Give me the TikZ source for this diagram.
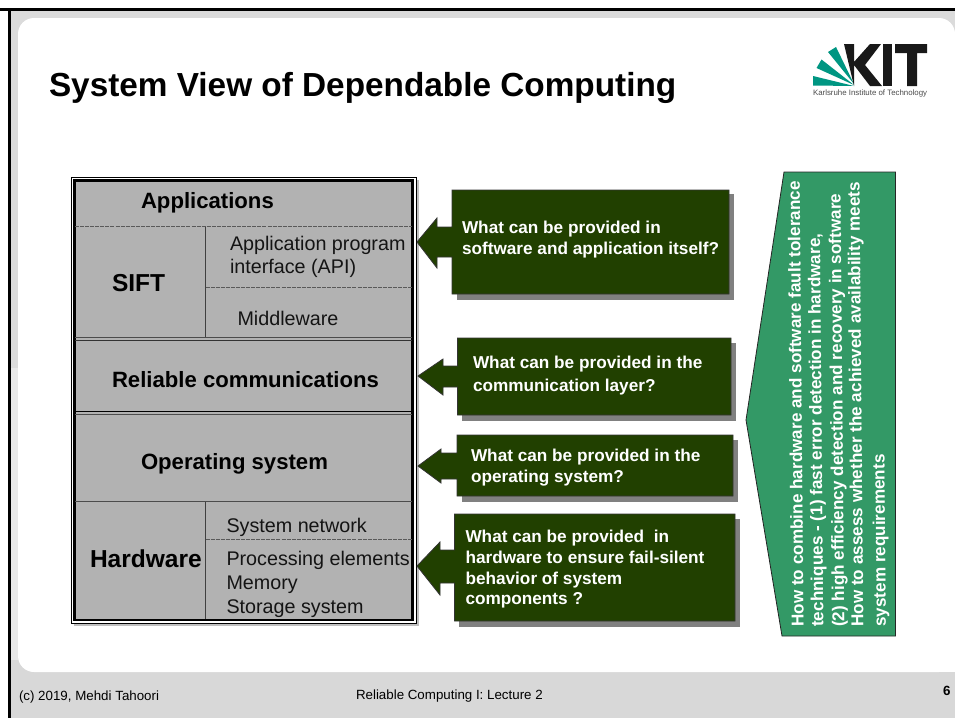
\documentclass[tikz,border=0pt]{standalone}
\usepackage{fontspec}
\setmainfont{Liberation Sans}
\definecolor{layer}{HTML}{B2B2B2}
\definecolor{dkgreen}{HTML}{214000}
\definecolor{midgreen}{HTML}{339966}
\definecolor{band}{HTML}{D8D8D8}
\definecolor{kitgreen}{HTML}{009682}
\newcommand{\fs}[2]{\fontsize{#1}{#2}\selectfont}
\tikzset{
  lbl/.style={inner sep=0pt,outer sep=0pt,anchor=west,align=left},
  big/.style={lbl,font=\fs{16.6}{18}\bfseries},
  huge/.style={lbl,font=\fs{18.4}{20}\bfseries},
  small/.style={lbl,font=\fs{14.8}{17.3},text=black!92},
  ask/.style={lbl,font=\fs{12.9}{15.8}\bfseries,text=white},
  asktall/.style={lbl,font=\fs{12.9}{17}\bfseries,text=white},
  asklong/.style={lbl,font=\fs{12.9}{15.5}\bfseries,text=white},
  note/.style={inner sep=0pt,anchor=west,align=left,font=\fs{12.85}{15}\bfseries,text=white,rotate=90.5},
  foot/.style={lbl,font=\fs{10}{12}},
  sep/.style={black!75,line width=0.7pt},
  dsep/.style={black!65,line width=0.6pt,dash pattern=on 3pt off 0.8pt},
  calloutbox/.style={fill=dkgreen,draw=black!80,line width=0.6pt},
  shadowbox/.style={fill=black!50},
}
\begin{document}
\begin{tikzpicture}[x=0.75pt,y=-0.75pt]
\useasboundingbox (0,0) rectangle (955,718);
% slide
\fill[white] (0,0) rectangle (955,718);
\fill[black!14] (9,10) rectangle (955,718);
\fill[black!9] (9,368) rectangle (18,672);
\fill[band] (9,660) rectangle (955,718);
\fill[white,rounded corners=12] (18,18) rectangle (955,672);
\fill[white] (900,640) rectangle (955,672);
\fill[black] (0,8) rectangle (955,11);
\fill[black] (8,8) rectangle (10.5,718);
% title and logo
\node[lbl,font=\fs{25}{28}\bfseries] (title) at (49,88) {System View of Dependable Computing};
\fill[kitgreen] (854,86) -- (813,85.5) -- (813,76) -- cycle;
\fill[kitgreen] (854,85) -- (816.5,68) -- (821.5,59.5) -- cycle;
\fill[kitgreen] (854,84) -- (828,52) -- (836,47) -- cycle;
\fill[black!90] (844,44) -- (854,44) -- (854,62) -- (870,44) -- (881,44) -- (865,65) -- (882,86) -- (870,86) -- (854,65) -- (854,86) -- cycle;
\fill[black!90] (883,44) rectangle (892,86);
\fill[black!90] (895,44) -- (927,44) -- (927,53) -- (917,53) -- (917,86) -- (907,86) -- (907,53) -- (895,53) -- cycle;
\node[lbl,font=\fs{5.9}{7},text=black!70] (kit) at (813,93.5) {Karlsruhe Institute of Technology};
% layered stack
\fill[black!25] (74,180) rectangle (419,626);
\fill[white] (71,177) rectangle (416,623);
\draw[black,line width=0.5pt] (71,177) rectangle (416,623);
\fill[layer] (75,181) rectangle (412,619);
\draw[black,line width=1.9pt] (74.5,180.5) rectangle (412.5,620);
\draw[dsep] (75,226.5) -- (412,226.5);
\draw[sep] (205.5,226.5) -- (205.5,338);
\draw[dsep] (205.5,287) -- (412,287);
\draw[black!70,line width=0.7pt] (75,337.5) -- (412,337.5);
\draw[black!80,line width=0.7pt] (75,340.5) -- (412,340.5);
\draw[black,line width=0.7pt] (75,411.5) -- (412,411.5);
\draw[black!70,line width=0.7pt] (75,414) -- (412,414);
\draw[black!70,line width=1.3pt] (75,501.5) -- (412,501.5);
\draw[sep] (205.5,502) -- (205.5,619);
\draw[dsep] (205.5,539) -- (412,539);
\node[big] (apps) at (141,203) {Applications};
\node[huge] (sift) at (112,283) {SIFT};
\node[small] (api) at (230,257) {Application program\\interface (API)};
\node[small] (mid) at (237.5,318) {Middleware};
\node[big] (rel) at (112,380) {Reliable communications};
\node[big] (os) at (141,464) {Operating system};
\node[huge] (hw) at (90,559) {Hardware};
\node[small] (net) at (226.5,527) {System network};
\node[small] (proc) at (226.5,560) {Processing elements};
\node[small] (memo) at (226.5,585) {Memory};
\node[small] (stor) at (226.5,608.5) {Storage system};
% callouts
\fill[shadowbox] (457,194) rectangle (734,300);
\path[calloutbox] (417,242) -- (437,218) -- (437,227) -- (452,227) -- (452,190) -- (729,190) -- (729,294) -- (452,294) -- (452,257) -- (437,257) -- (437,268) -- cycle;
\node[ask] (q1) at (462,240) {What can be provided in\\software and application itself?};
\fill[shadowbox] (462,343) rectangle (736,421);
\path[calloutbox] (418,376) -- (443,359) -- (443,366) -- (457.5,366) -- (457.5,338) -- (731,338) -- (731,415) -- (457.5,415) -- (457.5,387) -- (443,387) -- (443,395) -- cycle;
\node[asktall] (q2) at (473,375.5) {What can be provided in the\\communication layer?};
\fill[shadowbox] (462,440) rectangle (738,502);
\path[calloutbox] (418,466) -- (441,449) -- (441,453) -- (457,453) -- (457,435) -- (733,435) -- (733,496) -- (457,496) -- (457,479) -- (441,479) -- (441,483) -- cycle;
\node[ask] (q3) at (471,467.5) {What can be provided in the\\operating system?};
\fill[shadowbox] (459,519) rectangle (740,627);
\path[calloutbox] (417,566) -- (440,542) -- (440,550) -- (454.5,550) -- (454.5,514) -- (735,514) -- (735,621) -- (454.5,621) -- (454.5,583) -- (440,583) -- (440,595) -- cycle;
\node[asklong] (q4) at (465.5,569.5) {What can be provided \ in\\hardware to ensure fail-silent\\behavior of system\\components ?};
% pentagon
\path[fill=midgreen,draw=black!85,line width=0.6pt] (784,172) -- (895.5,172) -- (895.5,636) -- (782,636) -- (746,420) -- (784,172) -- cycle;
\node[note] (n1) at (797.5,627) {How to combine hardware and software fault tolerance};
\node[note] (n2) at (819,627) {techniques - (1) fast error detection in hardware,};
\node[note] (n3) at (840,627) {(2) high efficiency detection and recovery in software};
\node[note] (n4) at (859,627) {How to assess whether the achieved availability meets};
\node[note] (n5) at (881.5,627) {system requirements};
% footer
\node[foot] (f1) at (19,697) {(c) 2019, Mehdi Tahoori};
\node[foot] (f2) at (356,696.5) {Reliable Computing I: Lecture 2};
\node[lbl,font=\fs{10}{12}\bfseries] (f3) at (943,691) {6};
\end{tikzpicture}
\end{document}
